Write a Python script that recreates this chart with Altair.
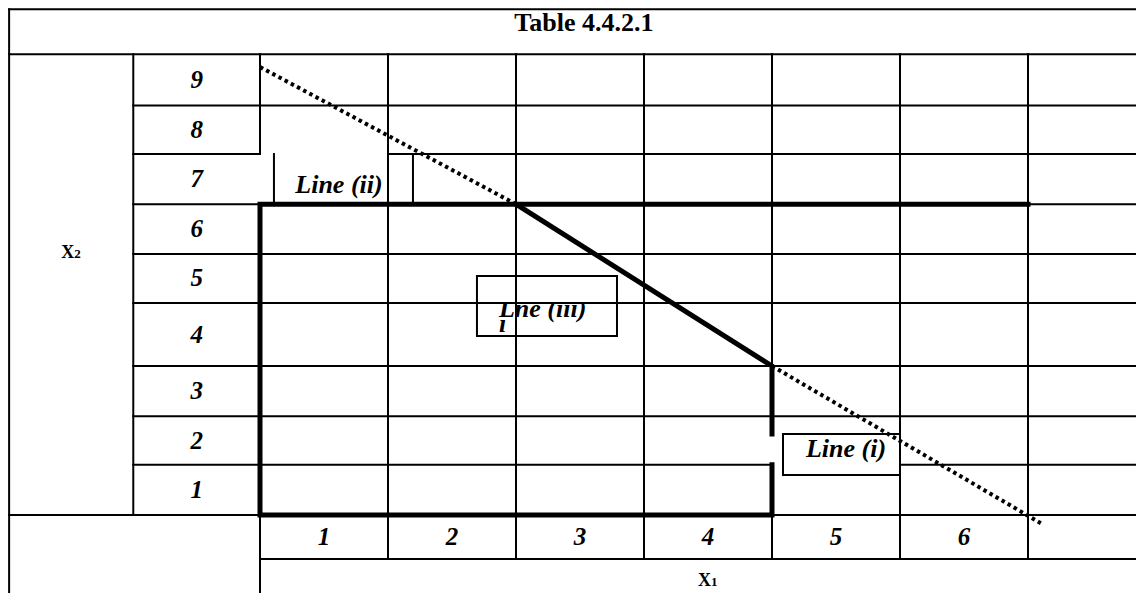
import altair as alt
import pandas as pd

# ---------------- content ----------------
title_text = "Table 4.4.2.1"
x1_labels = [1, 2, 3, 4, 5, 6]
x2_labels = [9, 8, 7, 6, 5, 4, 3, 2, 1]
# hand-drawn table: upper / lower edge of each x2 row (x2 units, rows 9..1)
x2_row_top = [9.00, 8.00, 7.05, 6.07, 5.10, 4.14, 2.91, 1.93, 0.98]
x2_row_bot = [8.00, 7.05, 6.07, 5.10, 4.14, 2.91, 1.93, 0.98, 0.00]

# table frame limits (x1 / x2 units)
XL, XC, XR = -1.96, -0.99, 6.84      # outer left border, label column, right edge
YT, YH, YX, YB = 9.88, 9.00, -0.86, -1.52  # top border, header line, x1 row, bottom

# thin table rules: (x, y, x2, y2)
thin_rules = [
    (XL, YT, XR, YT), (XL, YH, XR, YH), (XC, 8.00, XR, 8.00),
    (XC, 7.05, 0, 7.05), (1, 7.05, XR, 7.05),
    (XC, 6.07, 0, 6.07), (6, 6.07, XR, 6.07),
    (XC, 5.10, XR, 5.10), (XC, 4.14, XR, 4.14), (XC, 2.91, XR, 2.91),
    (XC, 1.93, XR, 1.93), (XC, 0.98, 4, 0.98), (5, 0.98, XR, 0.98),
    (XL, 0, 0, 0), (4, 0, XR, 0), (0, YX, XR, YX),
    (XL, YB, XL, YT), (XC, 0, XC, YH),
    (0, 7.05, 0, YH), (0, YB, 0, 0),
    (1, YX, 1, YH), (2, YX, 2, YH), (3, YX, 3, YH),
    (4, YX, 4, 0), (4, 2.91, 4, YH),
    (5, YX, 5, YH), (6, YX, 6, YH),
    # "Line (ii)" cell
    (0.109, 6.07, 0.109, 7.05), (1.195, 6.07, 1.195, 7.05),
    # "Line (i)" cell
    (4.086, 0.78, 5, 0.78), (4.086, 1.58, 5, 1.58), (4.086, 0.78, 4.086, 1.58),
]

# white label cells (x, x2, y, y2)
label_boxes = [
    (0.109, 1.195, 6.07, 7.05),     # Line (ii)
    (1.695, 2.789, 3.496, 4.668),   # Line (iii)
    (4.086, 5.0, 0.78, 1.58),       # Line (i)
]
box_iii_top = (1.695, 2.789, 4.14, 4.668)   # upper half of the Line (iii) cell

# feasible region outline (thick), two paths
thick_path = ["a", "a", "a", "a", "a", "b", "b", "b"]
thick_x = [4, 4, 0, 0, 6, 2, 4, 4]
thick_y = [0.98, 0, 0, 6.07, 6.07, 6.07, 2.91, 1.58]

# dotted constraint line, two visible pieces (x, y, x2, y2)
dotted = [(0, 8.75, 2, 6.07), (4, 2.91, 6.1, -0.16)]

# line labels: (text, x, y, align)  -- the (iii) label wraps badly in the original
line_labels = [
    ("Line (ii)", 0.617, 6.289, "center"),
    ("Line (i)", 4.578, 1.133, "center"),
    ("Lne (iii)\nı", 1.867, 3.867, "left"),
]

# ---------------- chart ----------------
W, H = 1128, 585
xs = alt.Scale(domain=[-1.96875, 6.84375], nice=False, zero=False)
ys = alt.Scale(domain=[-1.5234375, 9.90234375], nice=False, zero=False)
FONT = "Liberation Serif"


def ex(f="x"):
    return alt.X(f"{f}:Q", scale=xs, axis=None)


def ey(f="y"):
    return alt.Y(f"{f}:Q", scale=ys, axis=None)


rules_df = pd.DataFrame(thin_rules, columns=["x", "y", "x2", "y2"])
boxes_df = pd.DataFrame(label_boxes, columns=["x", "x2", "y", "y2"])
cover_df = pd.DataFrame([box_iii_top], columns=["x", "x2", "y", "y2"])
thick_df = pd.DataFrame({"path": thick_path, "x": thick_x, "y": thick_y,
                         "o": list(range(len(thick_x)))})
dot_df = pd.DataFrame(dotted, columns=["x", "y", "x2", "y2"])
lab_df = pd.DataFrame(line_labels, columns=["t", "x", "y", "align"])

row_df = pd.DataFrame({
    "t": [str(v) for v in x2_labels],
    "x": [(XC + 0) / 2] * len(x2_labels),
    "y": [(a + b) / 2 for a, b in zip(x2_row_top, x2_row_bot)],
})
col_df = pd.DataFrame({
    "t": [str(v) for v in x1_labels],
    "x": [v - 0.5 for v in x1_labels],
    "y": [(0 + YX) / 2] * len(x1_labels),
})
title_df = pd.DataFrame({"t": [title_text], "x": [2.53], "y": [9.45]})
axis_lab_df = pd.DataFrame({"big": ["X", "X"], "small": ["2", "1"],
                            "x": [(XL + XC) / 2, 3.5], "y": [5.02, -1.39]})

boxes = alt.Chart(boxes_df).mark_rect(color="white").encode(
    x=ex(), x2="x2:Q", y=ey(), y2="y2:Q")

labels_left = alt.Chart(lab_df[lab_df["align"] == "left"]).mark_text(
    font=FONT, fontSize=26, fontWeight="bold", fontStyle="italic",
    align="left", baseline="alphabetic", color="black",
    lineBreak="\n", lineHeight=15
).encode(x=ex(), y=ey(), text="t:N")
labels_center = alt.Chart(lab_df[lab_df["align"] == "center"]).mark_text(
    font=FONT, fontSize=26, fontWeight="bold", fontStyle="italic",
    align="center", baseline="alphabetic", color="black"
).encode(x=ex(), y=ey(), text="t:N")

cover = alt.Chart(cover_df).mark_rect(color="white").encode(
    x=ex(), x2="x2:Q", y=ey(), y2="y2:Q")

box_iii_frame = alt.Chart(boxes_df.iloc[[1]]).mark_rect(
    fillOpacity=0, stroke="black", strokeWidth=2
).encode(x=ex(), x2="x2:Q", y=ey(), y2="y2:Q")

thin = alt.Chart(rules_df).mark_rule(
    color="black", strokeWidth=2, strokeCap="square"
).encode(x=ex(), y=ey(), x2="x2:Q", y2="y2:Q")

thick = alt.Chart(thick_df).mark_line(
    color="black", strokeWidth=5, strokeJoin="miter", strokeCap="square"
).encode(x=ex(), y=ey(), detail="path:N", order="o:Q")

dots = alt.Chart(dot_df).mark_rule(
    color="black", strokeWidth=4, strokeDash=[3.5, 3.5], strokeCap="butt"
).encode(x=ex(), y=ey(), x2="x2:Q", y2="y2:Q")

rows = alt.Chart(row_df).mark_text(
    font=FONT, fontSize=25, fontWeight="bold", fontStyle="italic",
    align="center", baseline="middle", color="black"
).encode(x=ex(), y=ey(), text="t:N")
cols = alt.Chart(col_df).mark_text(
    font=FONT, fontSize=25, fontWeight="bold", fontStyle="italic",
    align="center", baseline="middle", color="black"
).encode(x=ex(), y=ey(), text="t:N")
title = alt.Chart(title_df).mark_text(
    font=FONT, fontSize=26, fontWeight="bold", align="center",
    baseline="alphabetic", color="black"
).encode(x=ex(), y=ey(), text="t:N")
ax_big = alt.Chart(axis_lab_df).mark_text(
    font=FONT, fontSize=18, fontWeight="bold", align="right",
    baseline="alphabetic", dx=3, color="black"
).encode(x=ex(), y=ey(), text="big:N")
ax_small = alt.Chart(axis_lab_df).mark_text(
    font=FONT, fontSize=13, fontWeight="bold", align="left",
    baseline="alphabetic", dx=3, color="black"
).encode(x=ex(), y=ey(), text="small:N")

chart = alt.layer(
    boxes, labels_left, labels_center, cover, thin, box_iii_frame,
    thick, dots, rows, cols, title, ax_big, ax_small
).properties(
    width=W, height=H, padding=0, background="white",
    autosize=alt.AutoSizeParams(type="none")
).configure_view(stroke=None)

chart.save("out.html", embed_options={"renderer": "svg", "actions": False})
